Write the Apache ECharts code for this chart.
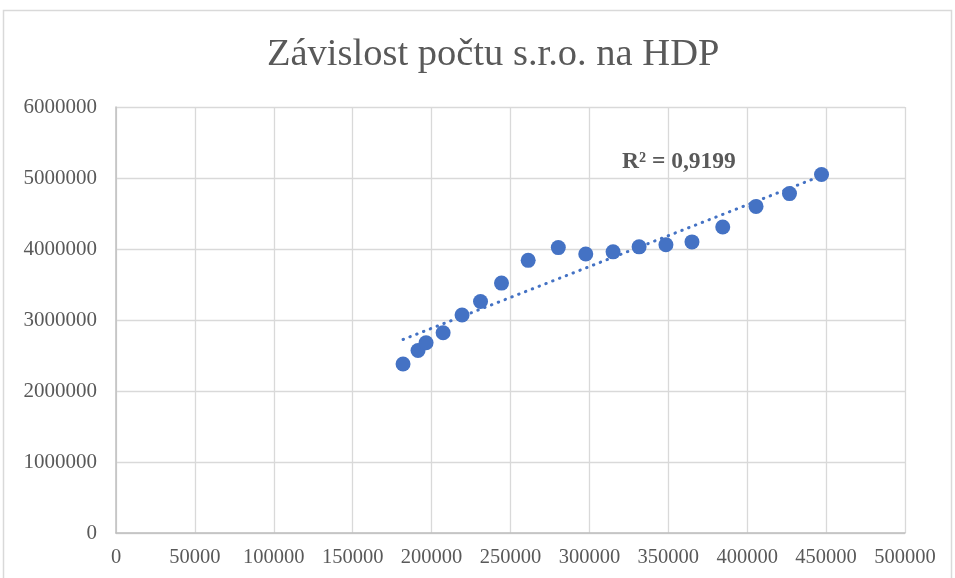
<!DOCTYPE html>
<html>
<head>
<meta charset="utf-8">
<script src="https://cdn.jsdelivr.net/npm/echarts@6/dist/echarts.min.js"></script>
<style>
  html, body { margin: 0; padding: 0; background: #fff; }
  #main { width: 955px; height: 578px; }
</style>
</head>
<body>
<div id="main"></div>
<script>
// HDP (x) a počet s.r.o. (y)
var hdp = [181900, 191400, 196500, 207300, 219300, 231000, 244300, 261200, 280300, 297700, 315000, 331500, 348500, 365000, 384500, 405600, 426800, 447100];
var pocet = [2380000, 2570000, 2680000, 2820000, 3070000, 3260000, 3520000, 3840000, 4020000, 3930000, 3960000, 4030000, 4060000, 4100000, 4310000, 4600000, 4780000, 5050000];
var r2Text = 'R² = 0,9199';

var points = hdp.map(function (x, i) { return [x, pocet[i]]; });

// lineární trend (nejmenší čtverce)
function trend(xs, ys) {
    var n = xs.length, sx = 0, sy = 0, sxx = 0, sxy = 0;
    for (var i = 0; i < n; i++) {
        sx += xs[i]; sy += ys[i]; sxx += xs[i] * xs[i]; sxy += xs[i] * ys[i];
    }
    var b = (n * sxy - sx * sy) / (n * sxx - sx * sx);
    var a = (sy - b * sx) / n;
    var x0 = Math.min.apply(null, xs), x1 = Math.max.apply(null, xs);
    return [[x0, a + b * x0], [x1, a + b * x1]];
}

var txt = '#595959';
var font = '"Liberation Serif", "DejaVu Serif", serif';

var chart = echarts.init(document.getElementById('main'));
var option = {
    animation: false,
    title: {
        text: 'Závislost počtu s.r.o. na HDP',
        left: 262,
        top: 30,
        textStyle: { fontFamily: font, fontSize: 38.5, fontWeight: 'normal', color: txt }
    },
    graphic: [{
        type: 'rect',
        shape: { x: 3.5, y: 10.5, width: 948, height: 600 },
        style: { fill: 'none', stroke: '#d9d9d9', lineWidth: 1.5 },
        silent: true
    }, {
        type: 'text',
        left: 622,
        top: 150,
        style: { text: r2Text, fill: txt, font: 'bold 23.5px ' + font }
    }],
    grid: { left: 116, right: 50, top: 107, bottom: 45 },
    xAxis: {
        type: 'value',
        min: 0, max: 500000, interval: 50000,
        axisLine: { show: true, lineStyle: { color: '#bfbfbf', width: 1.5 } },
        axisTick: { show: false },
        axisLabel: { color: txt, fontFamily: font, fontSize: 20.5, margin: 14, formatter: function (v) { return String(v); } },
        splitLine: { show: true, lineStyle: { color: '#d9d9d9', width: 1.3 } }
    },
    yAxis: {
        type: 'value',
        min: 0, max: 6000000, interval: 1000000,
        axisLine: { show: true, lineStyle: { color: '#bfbfbf', width: 1.5 } },
        axisTick: { show: false },
        axisLabel: { color: txt, fontFamily: font, fontSize: 21, margin: 19, formatter: function (v) { return String(v); } },
        splitLine: { show: true, lineStyle: { color: '#d9d9d9', width: 1.3 } }
    },
    series: [
        {
            type: 'line',
            data: trend(hdp, pocet),
            showSymbol: false,
            symbol: 'none',
            lineStyle: { color: '#4472C4', width: 3, type: [0.5, 6.8], cap: 'round' },
            z: 2
        },
        {
            type: 'scatter',
            data: points,
            symbolSize: 15,
            itemStyle: { color: '#4472C4', opacity: 1 },
            z: 3
        }
    ]
};
chart.setOption(option);
</script>
</body>
</html>
